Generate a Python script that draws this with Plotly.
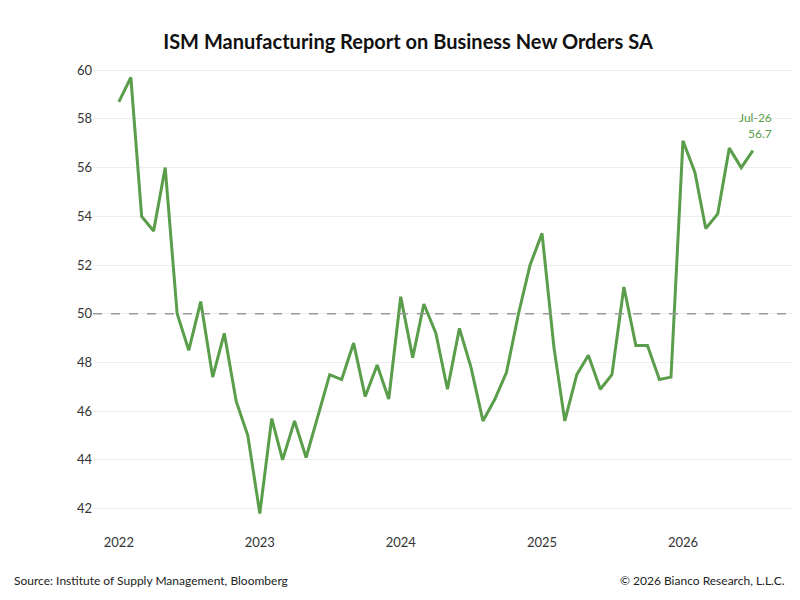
import plotly.graph_objects as go
import pandas as pd

dates = pd.date_range("2022-01-01", periods=55, freq="MS")
values = [58.7, 59.7, 54.0, 53.4, 56.0, 50.0, 48.5, 50.5, 47.4, 49.2, 46.4, 45.0,
          41.8, 45.7, 44.0, 45.6, 44.1, 45.8, 47.5, 47.3, 48.8, 46.6, 47.9, 46.5,
          50.7, 48.2, 50.4, 49.2, 46.9, 49.4, 47.8, 45.6, 46.5, 47.6, 50.0, 52.0,
          53.3, 48.6, 45.6, 47.5, 48.3, 46.9, 47.5, 51.1, 48.7, 48.7, 47.3, 47.4,
          57.1, 55.8, 53.5, 54.1, 56.8, 56.0, 56.7]
green = "#5a9e4b"

fig = go.Figure()
fig.add_trace(go.Scatter(x=dates, y=values, mode="lines", line=dict(color=green, width=3), hoverinfo="skip"))
fig.add_hline(y=50, line=dict(color="#999999", width=1.5, dash="dash"))
fig.add_annotation(x=dates[-1], y=values[-1], text="Jul-26<br>56.7", showarrow=False,
                   xanchor="center", yanchor="bottom", xshift=3, yshift=8,
                   font=dict(color=green, size=12, family="Lato"), align="right")
fig.add_annotation(x=0, y=0, xref="paper", yref="paper", xanchor="left", yanchor="top",
                   text="Source: Institute of Supply Management, Bloomberg", showarrow=False,
                   font=dict(size=12, family="Lato", color="#222"), xshift=-81, yshift=-38)
fig.add_annotation(x=1, y=0, xref="paper", yref="paper", xanchor="right", yanchor="top",
                   text="© 2026 Bianco Research, L.L.C.", showarrow=False,
                   font=dict(size=12, family="Lato", color="#222"), xshift=-6, yshift=-38)
fig.update_layout(
    width=800, height=600, plot_bgcolor="white", paper_bgcolor="white",
    margin=dict(l=85, r=15, t=50, b=75), showlegend=False,
    title=dict(text="<b>ISM Manufacturing Report on Business New Orders SA</b>", x=0.5, xanchor="center",
               y=0.955, font=dict(size=20, family="Lato", color="#111")),
    font=dict(family="Lato", size=13, color="#333"),
    xaxis=dict(range=[pd.Timestamp("2021-10-26"), pd.Timestamp("2026-10-13")], showgrid=False,
               tickvals=pd.to_datetime(["2022-01-01", "2023-01-01", "2024-01-01", "2025-01-01", "2026-01-01"]),
               ticktext=["2022", "2023", "2024", "2025", "2026"], showline=False, ticks=""),
    yaxis=dict(range=[41, 60.5], dtick=2, showgrid=True, gridcolor="#eeeeee", zeroline=False, ticks=""),
)
fig.write_html("out.html")
